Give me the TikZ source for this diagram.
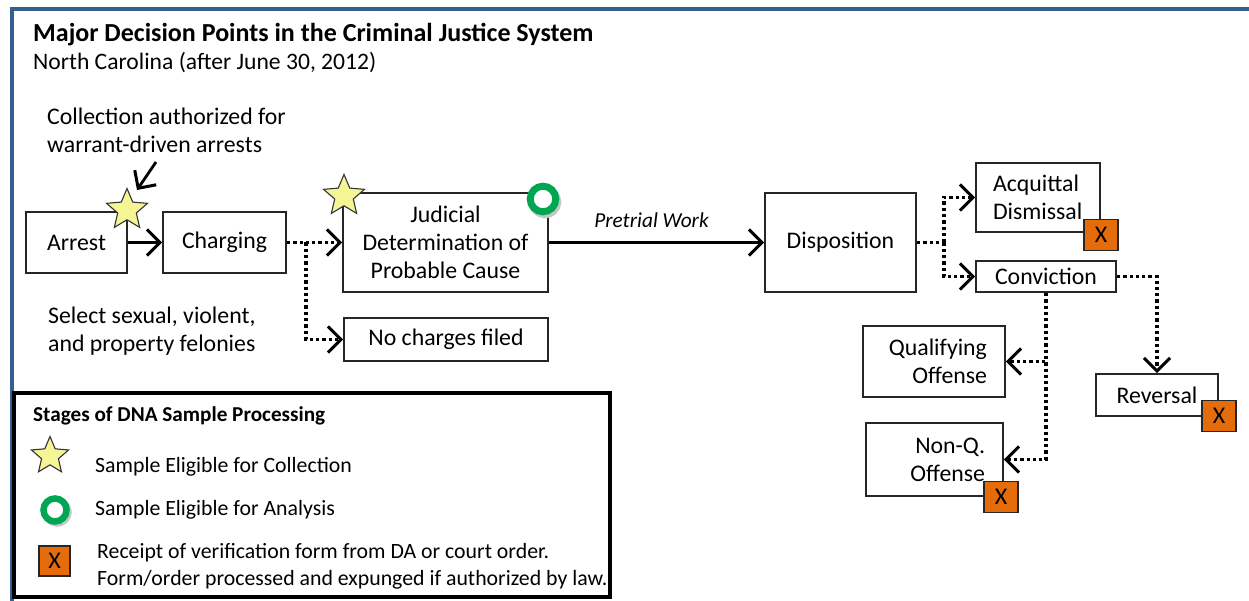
\documentclass[tikz,border=0pt]{standalone}
\usepackage{fontspec}
\setmainfont{Carlito}
\usetikzlibrary{arrows.meta,shapes.geometric}
\definecolor{frameblue}{RGB}{54,95,145}
\definecolor{xorange}{RGB}{228,108,10}
\definecolor{stary}{RGB}{245,245,150}
\definecolor{ringg}{RGB}{0,166,81}
\begin{document}
\begin{tikzpicture}[x=1pt,y=-1pt,
  box/.style={draw=black!85,line width=1.9pt,fill=white,inner sep=0pt,font=\fontsize{23.8}{28}\selectfont,align=center},
  xbox/.style={draw=black!85,line width=1.9pt,fill=xorange,minimum width=34pt,minimum height=31pt,inner sep=0pt,font=\fontsize{24}{28}\selectfont},
  starmark/.style={star,star points=5,star point ratio=2.2,draw=black!80,line width=1.1pt,fill=stary,inner sep=0pt},
  ring/.style={circle,draw=ringg,fill=white,line width=7pt,inner sep=0pt},
  barb/.style={-{Straight Barb[length=13pt,width=26pt,line width=3pt]}},
  solidarr/.style={barb,line width=2.8pt},
  dotline/.style={line width=3.3pt,dash pattern=on 3.3pt off 3pt},
  dotarr/.style={dotline,barb},
  lbl/.style={inner sep=0pt,align=left,font=\fontsize{23.8}{28}\selectfont},
  leg/.style={inner sep=0pt,anchor=west,font=\fontsize{21.8}{27}\selectfont,align=left}
]
\useasboundingbox (0,0) rectangle (1249,601);
\fill[white] (0,0) rectangle (1249,601);
% frame
\draw[frameblue,line width=4pt] (1249,9.5) -- (12,9.5) -- (12,601);
% titles
\node[anchor=base west,inner sep=0pt,font=\bfseries\fontsize{26}{30}\selectfont] (title) at (33,42) {Major Decision Points in the Criminal Justice System};
\node[anchor=base west,inner sep=0pt,font=\fontsize{23.6}{28}\selectfont] (subtitle) at (33,70) {North Carolina (after June 30, 2012)};
\node[lbl,anchor=west] (collect) at (47,130) {Collection authorized for\\warrant-driven arrests};
\node[lbl,anchor=west] (select) at (48,331) {Select sexual, violent,\\and property felonies};
% boxes
\node[box,minimum width=101pt,minimum height=61pt] (arrest) at (76.5,242.5) {Arrest};
\node[box,minimum width=123pt,minimum height=61pt] (charging) at (224.5,242.5) {Charging};
\node[box,minimum width=205pt,minimum height=99pt] (judicial) at (445.5,242.5) {Judicial\\Determination of\\Probable Cause};
\node[box,minimum width=204pt,minimum height=43pt] (nocharge) at (446,339.5) {No charges filed};
\node[box,minimum width=151pt,minimum height=99pt] (disp) at (840.5,242.5) {Disposition};
\node[box,minimum width=124pt,minimum height=69pt,text width=90pt,align=left] (acq) at (1038,197.5) {Acquittal\\Dismissal};
\node[box,minimum width=140pt,minimum height=31pt] (conv) at (1046,276.5) {Conviction};
\node[box,minimum width=122pt,minimum height=42pt] (rev) at (1157,395) {Reversal};
\node[box,minimum width=142pt,minimum height=71pt,text width=106pt,align=right] (qual) at (934,361.5) {Qualifying\\Offense};
\node[box,minimum width=137pt,minimum height=73pt,text width=101pt,align=right] (nonq) at (934.5,459.5) {Non-Q.\\Offense};
% connectors
\draw[solidarr] (arrest.east) -- (charging.west);
\draw[dotarr] (charging.east) -- (judicial.west);
\coordinate (b1) at (306,242.5);
\draw[dotarr] (b1) |- (nocharge.west);
\draw[solidarr] (judicial.east) -- node[midway,above=13pt,xshift=-5pt,inner sep=0pt,font=\itshape\fontsize{21.3}{25}\selectfont] (pw) {Pretrial Work} (disp.west);
\coordinate (b2) at (944,242.5);
\draw[dotline] (disp.east) -- (b2);
\draw[dotarr] (b2) |- (acq.west);
\draw[dotarr] (b2) |- (conv.west);
\draw[dotarr] (conv.east) -| (rev.north);
\draw[dotline] (conv.south) -- (conv.south |- nonq.east);
\draw[dotarr] (conv.south) |- (qual.east);
\draw[dotarr] (conv.south) |- (nonq.east);
\coordinate (annA) at (156,162);
\coordinate (annB) at (137,190);
\draw[solidarr] (annA) -- (annB);
% X marks
\node[xbox] (x1) at (1101,235) {X};
\node[xbox] (x2) at (1219,416) {X};
\node[xbox] (x3) at (1001,497) {X};
% stars and rings
\node[starmark,minimum size=43pt] (s1) at (127,210) {};
\node[starmark,minimum size=43pt] (s2) at (344,196) {};
\draw[black!22,line width=7pt] (545,202) circle (12.8pt);
\node[ring,minimum size=25.6pt] (r1) at (543,199) {};
% legend
\node[draw=black,line width=4pt,minimum width=596pt,minimum height=204pt,inner sep=0pt] (legend) at (312,495) {};
\node[anchor=west,inner sep=0pt,font=\bfseries\fontsize{21.2}{24}\selectfont] (legtitle) at (33,416) {Stages of DNA Sample Processing};
\node[starmark,minimum size=39pt] (ls) at (50,456) {};
\node[leg] (lst) at (95,467) {Sample Eligible for Collection};
\draw[black!22,line width=6.5pt] (57,512) circle (11.5pt);
\node[ring,line width=6.5pt,minimum size=23pt] (lr) at (55,510) {};
\node[leg] (lrt) at (95,510) {Sample Eligible for Analysis};
\node[xbox,minimum width=31pt,minimum height=30pt] (lx) at (54.5,561) {X};
\node[leg] (lxt) at (97,566.5) {Receipt of verification form from DA or court order.\\Form/order processed and expunged if authorized by law.};
\end{tikzpicture}
\end{document}
